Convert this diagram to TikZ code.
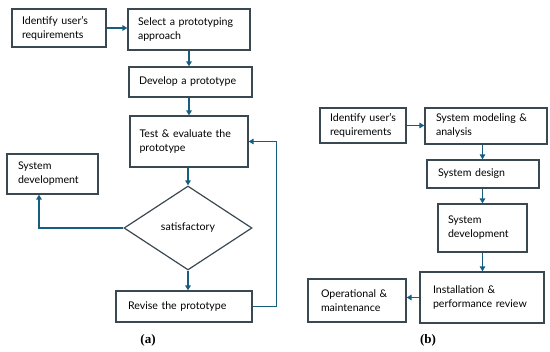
\documentclass[tikz,border=0pt]{standalone}
\usepackage{fontspec}
\setmainfont{Lato}
\newfontfamily\capfont{Liberation Serif}
\usetikzlibrary{arrows.meta,positioning,shapes.geometric}
\definecolor{FlowTeal}{RGB}{22,94,128}
\definecolor{BoxSlate}{RGB}{58,72,82}

\begin{document}
\begin{tikzpicture}[x=1pt,y=-1pt,>={Triangle[length=5pt,width=5.5pt]},
    stepbox/.style={draw=BoxSlate,line width=1.2pt,align=left,inner xsep=10pt,
      inner ysep=0pt,font=\fontsize{10.6}{14}\selectfont},
    flow/.style={->,FlowTeal,line width=1.6pt},
    caption/.style={font=\capfont\bfseries\fontsize{13}{13}\selectfont}]
  \useasboundingbox (0,0) rectangle (550,352);
  % (a) prototyping
  \node[stepbox,text width=74pt,minimum height=38pt] (ida) at (59,28) {Identify user’s\\requirements};
  \node[stepbox,text width=102pt,minimum height=41pt] (sel) at (189,29.5) {Select a prototyping\\approach};
  \node[stepbox,text width=103pt,minimum height=30pt] (dev) at (190.5,82) {Develop a prototype};
  \node[stepbox,text width=99pt,inner xsep=9.5pt,minimum height=51pt] (tst) at (189,141.5) {Test \& evaluate the\\prototype};
  \node[stepbox,text width=69pt,inner xsep=11pt,minimum height=40pt] (sda) at (52.5,174) {System\\development};
  \node[diamond,draw=BoxSlate,line width=1.2pt,minimum width=128pt,minimum height=84pt,
    inner sep=0pt,font=\fontsize{10.6}{14}\selectfont] (sat) at (188,228) {satisfactory};
  \node[stepbox,text width=112pt,inner xsep=12pt,minimum height=31pt] (rev) at (184,306.5) {Revise the prototype};
  \draw[flow] (ida.east) -- (ida.east -| sel.west);
  \draw[flow] (sel.south) -- (sel.south |- dev.north);
  \draw[flow] (tst.north |- dev.south) -- (tst.north);
  \draw[flow] (tst.south -| sat.north) -- (sat.north);
  \draw[flow] (sat.south) -- (sat.south |- rev.north);
  \draw[flow] (rev.east) -- ++(24,0) |- (tst.east);
  \draw[flow] (sat.west) -| ([xshift=-13.5pt]sda.south);
  \node[caption] (capa) at (148,340) {(a)};
  % (b) waterfall
  \node[stepbox,text width=66pt,minimum height=35pt] (idb) at (363,125.5) {Identify user’s\\requirements};
  \node[stepbox,text width=100pt,inner xsep=11pt,minimum height=36pt] (mod) at (486,126) {System modeling \&\\analysis};
  \node[stepbox,text width=90pt,inner xsep=11pt,minimum height=28pt] (dsg) at (483,174) {System design};
  \node[stepbox,text width=69pt,minimum height=48pt] (sdb) at (482.5,228) {System\\development};
  \node[stepbox,text width=98pt,inner xsep=13pt,minimum height=51pt] (ins) at (482,297.5) {Installation \&\\performance review};
  \node[stepbox,text width=72pt,inner xsep=13pt,minimum height=43pt] (opm) at (357,300.5) {Operational \&\\maintenance};
  \draw[flow] (idb.east) -- (idb.east -| mod.west);
  \draw[flow] (sdb.north |- mod.south) -- (sdb.north |- dsg.north);
  \draw[flow] (sdb.north |- dsg.south) -- (sdb.north);
  \draw[flow] (sdb.south) -- (sdb.south |- ins.north);
  \draw[flow] (ins.west) -- (ins.west -| opm.east);
  \node[caption] (capb) at (428,340) {(b)};
\end{tikzpicture}
\end{document}
